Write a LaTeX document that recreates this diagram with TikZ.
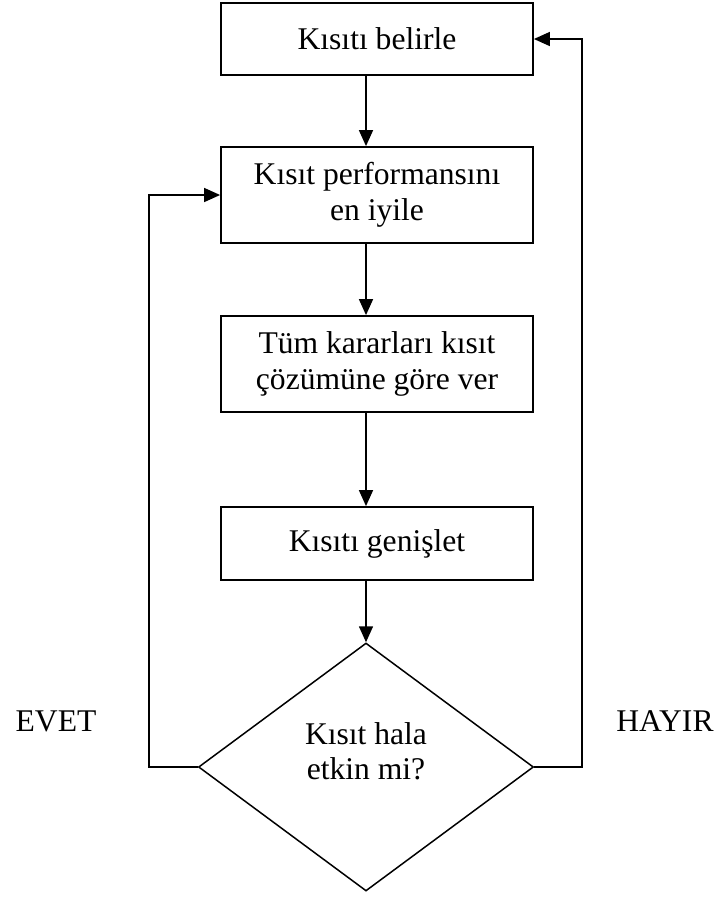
\documentclass[tikz,border=0pt]{standalone}
\usepackage{fontspec}
\setmainfont{Liberation Serif}
\usetikzlibrary{shapes.geometric,arrows.meta}
\begin{document}
\begin{tikzpicture}[x=1pt,y=-1pt,
  every node/.style={font=\fontsize{31.6}{35.5}\selectfont},
  stepbox/.style={draw,line width=1.8pt,minimum width=312pt,inner sep=0pt,align=center},
  decision/.style={draw,diamond,line width=1.5pt,minimum width=335pt,minimum height=248pt,inner sep=0pt},
  flow/.style={line width=1.5pt,-{Triangle[length=16pt,width=14pt]}},
  answer/.style={inner sep=0pt}]
\useasboundingbox (0,0) rectangle (719,898);
\fill[white] (0,0) rectangle (719,898);

% process steps
\node[stepbox,minimum height=72pt] (box1) at (377,39) {Kısıtı belirle};
\node[stepbox,minimum height=96pt] (box2) at (377,195) {Kısıt performansını\\en iyile};
\node[stepbox,minimum height=96pt] (box3) at (377,364) {Tüm kararları kısıt\\çözümüne göre ver};
\node[stepbox,minimum height=73pt] (box4) at (377,543.5) {Kısıtı genişlet};
% question text sits a little above the middle of the diamond
\node[decision] (dia) at (366,767)
  {\raisebox{12pt}[\height][\depth]{\begin{tabular}{@{}c@{}}Kısıt hala\\etkin mi?\end{tabular}}};

% feedback columns
\coordinate (lcol) at (149,0);
\coordinate (rcol) at (582,0);

% main flow
\draw[flow] (box1.south -| dia.north) -- (box2.north -| dia.north);
\draw[flow] (box2.south -| dia.north) -- (box3.north -| dia.north);
\draw[flow] (box3.south -| dia.north) -- (box4.north -| dia.north);
\draw[flow] (box4.south -| dia.north) -- (dia.north);

% loops back
\draw[flow] (dia.west) -- (dia.west -| lcol) |- (box2.west);
\draw[flow] (dia.east) -- (dia.east -| rcol) |- (box1.east);

\node[answer] (yes) at (56,721) {EVET};
\node[answer] (no) at (665,721) {HAYIR};
\end{tikzpicture}
\end{document}
